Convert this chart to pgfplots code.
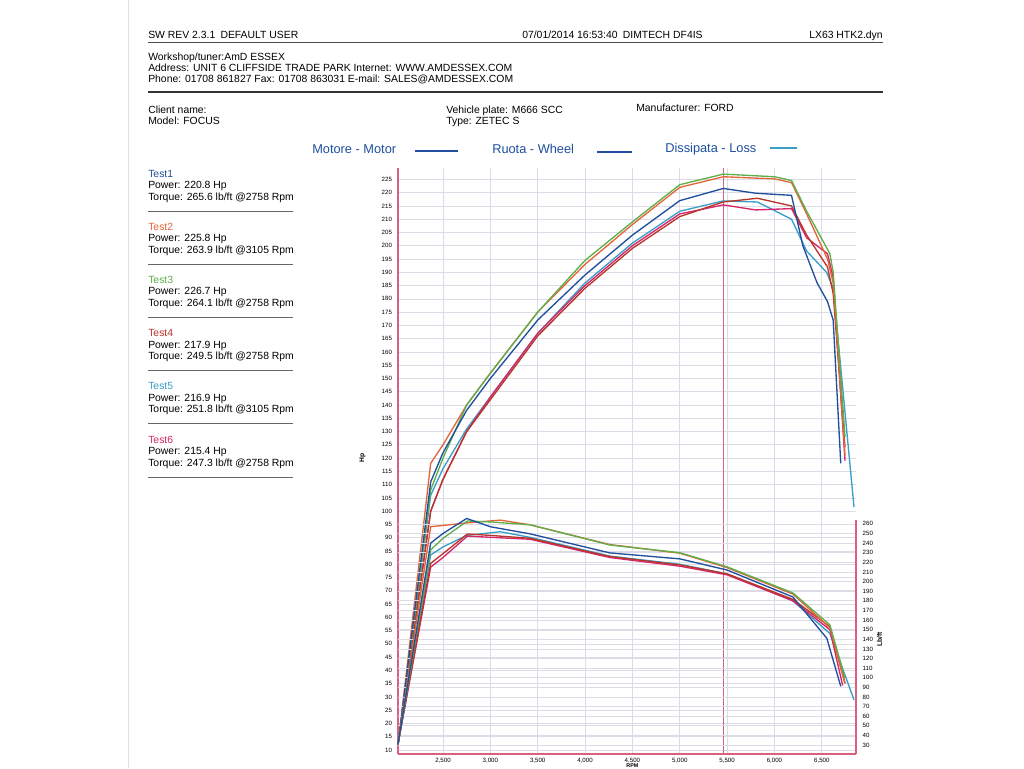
\documentclass[border=0pt]{standalone}
\usepackage{fontspec}
\setmainfont{Liberation Sans}
\usepackage{pgfplots}
\pgfplotsset{compat=1.18}

\definecolor{tOne}{HTML}{1F4F9E}
\definecolor{tTwo}{HTML}{E2663A}
\definecolor{tThree}{HTML}{5FAE4A}
\definecolor{tFour}{HTML}{B8352A}
\definecolor{tFive}{HTML}{3A9EC8}
\definecolor{tSix}{HTML}{D8256A}
\definecolor{axpink}{HTML}{D9607F}
\definecolor{gridc}{HTML}{DCDCE6}

\newcommand\hdr{\fontsize{7.8}{9}\selectfont}
\newcommand\tk{\fontsize{4.6}{5}\selectfont}

\begin{document}
\begin{tikzpicture}[x=0.75pt,y=-0.75pt, txt/.style={inner sep=0pt, font=\hdr}]
\path[use as bounding box, fill=white] (0,0) rectangle (1024,768);
\draw[black!12] (128,0) -- (128,768);
\coordinate (ax) at (398,754);

% header
\node[anchor=base west, txt] at (148,38) {SW REV 2.3.1\enspace DEFAULT USER};
\node[anchor=base west, txt] at (522,38) {07/01/2014 16:53:40\enspace DIMTECH DF4IS};
\node[anchor=base east, txt] at (883,38) {LX63 HTK2.dyn};
\draw[black!70, line width=0.6pt] (148,42) -- (883,42);
\node[anchor=base west, txt] at (148,60) {Workshop/tuner:AmD ESSEX};
\node[anchor=base west, txt] at (148,71) {Address: UNIT 6 CLIFFSIDE TRADE PARK Internet: WWW.AMDESSEX.COM};
\node[anchor=base west, txt] at (148,82) {Phone: 01708 861827 Fax: 01708 863031 E-mail: SALES@AMDESSEX.COM};
\draw[black!80, line width=1pt] (148,92) -- (883,92);
\node[anchor=base west, txt] at (148,113) {Client name:};
\node[anchor=base west, txt] at (148,124) {Model: FOCUS};
\node[anchor=base west, txt] at (446,113) {Vehicle plate: M666 SCC};
\node[anchor=base west, txt] at (446,124) {Type: ZETEC S};
\node[anchor=base west, txt] at (636,111) {Manufacturer: FORD};

% line legend
\node[anchor=base west, inner sep=0pt, font=\fontsize{9.6}{11}\selectfont, text=tOne] at (312,153) {Motore - Motor};
\draw[tOne, line width=2pt] (415,151) -- (458,151);
\node[anchor=base west, inner sep=0pt, font=\fontsize{9.6}{11}\selectfont, text=tOne] at (492,153) {Ruota - Wheel};
\draw[tOne, line width=1.3pt] (597,152) -- (632,152);
\node[anchor=base west, inner sep=0pt, font=\fontsize{9.6}{11}\selectfont, text=tOne] at (665,152) {Dissipata - Loss};
\draw[tFive, line width=0.8pt] (770,148) -- (797,148);

% test summary
\foreach \c/\n/\p/\t/\r [count=\i from 0] in {tOne/1/220.8/265.6/2758, tTwo/2/225.8/263.9/3105, tThree/3/226.7/264.1/2758, tFour/4/217.9/249.5/2758, tFive/5/216.9/251.8/3105, tSix/6/215.4/247.3/2758}{
  \node[anchor=base west, txt, text=\c] at (148,177+53.2*\i) {Test\n};
  \node[anchor=base west, txt] at (148,188.5+53.2*\i) {Power: \p\ Hp};
  \node[anchor=base west, txt] at (148,200+53.2*\i) {Torque: \t\ lb/ft @\r\ Rpm};
  \draw[black!60, line width=0.6pt] (148,211+53.2*\i) -- (293,211+53.2*\i);
}

% power axis
\begin{axis}[
  at={(ax)}, anchor=south west,
  scale only axis, width=343.5pt, height=439.5pt,
  xmin=2025, xmax=6861, ymin=8.5, ymax=229.3,
  xtick={2500,3000,...,6500}, ytick={10,15,...,225},
  axis x line*=bottom, axis y line*=left,
  axis line style={-, draw=axpink, line width=0.9pt},
  major tick length=0pt,
  grid=major, grid style={gridc, line width=0.5pt},
  tick label style={font=\tk},
  /pgf/number format/assume math mode=true,
  /pgf/number format/1000 sep={,},
  xticklabel style={yshift=0.6pt},
  yticklabel style={xshift=-1pt},
  clip=false,
]
\draw[axpink, line width=0.7pt] (axis cs:5460,8.5) -- (axis cs:5460,229.3);
\addplot[tFive, line width=1pt] coordinates {(2025,12) (2370,106) (2500,116) (2750,131) (3000,143) (3500,167) (4000,186) (4500,201) (5000,213) (5460,216.9) (5820,216.5) (6180,210) (6340,198) (6550,190) (6620,184) (6840,101.5)};
\addplot[tSix, line width=1pt] coordinates {(2025,12) (2370,100) (2500,112) (2750,130) (3000,143) (3500,167) (4000,185) (4500,200) (5000,212) (5460,215.4) (5800,213.5) (6180,214) (6340,203) (6560,197) (6620,188) (6745,119)};
\addplot[tFour, line width=1pt] coordinates {(2025,12) (2370,100) (2500,112) (2750,130) (3000,142) (3500,166) (4000,184) (4500,199) (5000,211) (5460,216.5) (5820,217.9) (6180,215) (6340,204) (6560,192) (6620,182) (6745,124)};
\addplot[tTwo, line width=1pt] coordinates {(2025,12) (2370,118) (2500,125) (2750,140) (3000,152) (3500,175) (4000,193) (4500,208) (5000,222) (5460,226) (6000,225.2) (6180,223.8) (6340,212) (6560,195) (6620,186) (6745,121)};
\addplot[tThree, line width=1pt] coordinates {(2025,12) (2370,108) (2500,120) (2750,140) (3000,152) (3500,175) (4000,194.5) (4500,209) (5000,223) (5460,227) (6000,226) (6180,224.6) (6340,213) (6585,197) (6620,190) (6745,128)};
\addplot[tOne, line width=1pt] coordinates {(2025,12) (2370,111) (2500,122) (2750,138) (3000,150) (3500,172) (4000,189) (4500,204) (5000,217) (5460,221.6) (5800,219.8) (6180,219) (6300,200) (6450,186) (6560,179) (6620,172) (6700,118)};
\node[rotate=90, font=\fontsize{5}{6}\selectfont\bfseries] at (axis cs:1650,120) {Hp};
\node[font=\fontsize{4}{5}\selectfont\bfseries, anchor=base, inner sep=0pt] at (axis cs:4500,3.6) {RPM};
\end{axis}

% torque axis
\begin{axis}[
  at={(ax)}, anchor=south west,
  scale only axis, width=343.5pt, height=439.5pt,
  xmin=2025, xmax=6861, ymin=20.7, ymax=630,
  ytick={30,40,...,260}, xtick=\empty,
  axis y line*=right, axis x line=none,
  axis line style={draw=none},
  major tick length=0pt,
  ymajorgrids, grid style={gridc, line width=0.5pt},
  tick label style={font=\tk},
  yticklabel style={xshift=1.5pt},
  /pgf/number format/assume math mode=true,
  clip=false,
]
\draw[axpink, line width=0.8pt] (axis cs:6861,20.7) -- (axis cs:6861,264);
\addplot[tFive, line width=1pt] coordinates {(2025,31) (2370,227.7) (2500,236) (2750,248) (3105,251.8) (3420,246) (4262,226.5) (5000,218) (5500,208) (6194,180) (6585,146) (6840,77)};
\addplot[tSix, line width=1pt] coordinates {(2025,31) (2370,215) (2500,225) (2758,247.3) (3000,246) (3420,244) (4262,225) (5000,216) (5500,207) (6194,180) (6585,150) (6720,92)};
\addplot[tFour, line width=1pt] coordinates {(2025,31) (2370,219) (2500,229) (2758,249.5) (3000,248) (3420,245) (4262,226) (5000,217.3) (5500,208) (6194,181.5) (6585,153) (6745,94)};
\addplot[tTwo, line width=1pt] coordinates {(2025,31) (2370,257) (2750,261) (3105,263.9) (3420,259) (4262,238.5) (5000,229.5) (5500,214.5) (6194,187) (6585,152) (6745,94.5)};
\addplot[tThree, line width=1pt] coordinates {(2025,31) (2370,233) (2500,245) (2758,263) (3000,262) (3420,259) (4262,238) (5000,230) (5500,215.3) (6194,188.2) (6585,155) (6745,99.7)};
\addplot[tOne, line width=1pt] coordinates {(2025,31) (2370,240) (2500,250) (2750,265.6) (3000,257) (3420,249.6) (4262,229.8) (5000,223.6) (5500,212) (6194,184) (6553,141) (6700,91)};
\node[rotate=90, font=\fontsize{5}{6}\selectfont\bfseries] at (axis cs:7110,140) {Lb/ft};
\end{axis}
\end{tikzpicture}
\end{document}
